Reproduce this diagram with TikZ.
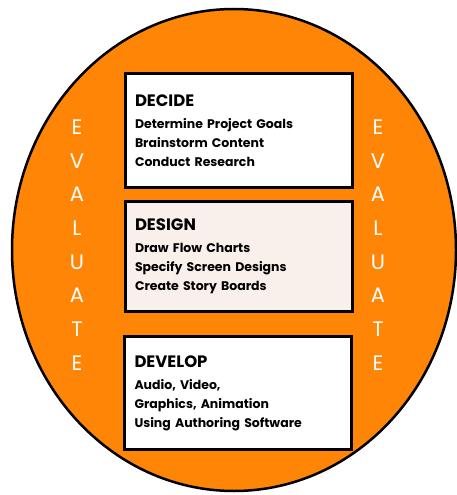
\documentclass[tikz,border=0pt]{standalone}
\usepackage{fontspec}
\setmainfont{Poppins}
\usetikzlibrary{positioning}
\definecolor{evalorange}{HTML}{FF8506}
\definecolor{designfill}{HTML}{F9F0EB}

\begin{document}
\begin{tikzpicture}[x=1pt,y=-1pt,
    stagebox/.style={draw=black, line width=3pt, fill=white, minimum width=227pt,
      text width=207pt, align=left, inner sep=0pt,
      font=\bfseries\fontsize{12.5}{19}\selectfont},
    letter/.style={text=white, inner sep=0pt, font=\fontsize{21}{21}\selectfont}]
    \useasboundingbox (0,0) rectangle (456,495);

    % Outer circle
    \draw[fill=evalorange, line width=2.5pt] (234,250) ellipse [x radius=222pt, y radius=241pt];

    % Stages
    \node[stagebox, minimum height=114pt] (decide) at (238.5,130.5)
        {{\fontsize{16.5}{19}\selectfont DECIDE}\\[3pt]
         Determine Project Goals\\ Brainstorm Content\\ Conduct Research};
    \node[stagebox, fill=designfill, minimum height=110pt] (design) at (238.5,256.5)
        {{\fontsize{16.5}{19}\selectfont DESIGN}\\[3pt]
         Draw Flow Charts\\ Specify Screen Designs\\ Create Story Boards};
    \node[stagebox, minimum height=113pt] (develop) at (238,393)
        {{\fontsize{16.5}{19}\selectfont DEVELOP}\\[3pt]
         Audio, Video,\\ Graphics, Animation\\ Using Authoring Software};

    % Evaluate, both sides
    \foreach \ch [count=\i from 0] in {E,V,A,L,U,A,T,E} {
        \node[letter] (evalleft\i) at (77,{127+33.7*\i}) {\ch};
        \node[letter] (evalright\i) at (378,{127+33.7*\i}) {\ch};
    }
\end{tikzpicture}
\end{document}
